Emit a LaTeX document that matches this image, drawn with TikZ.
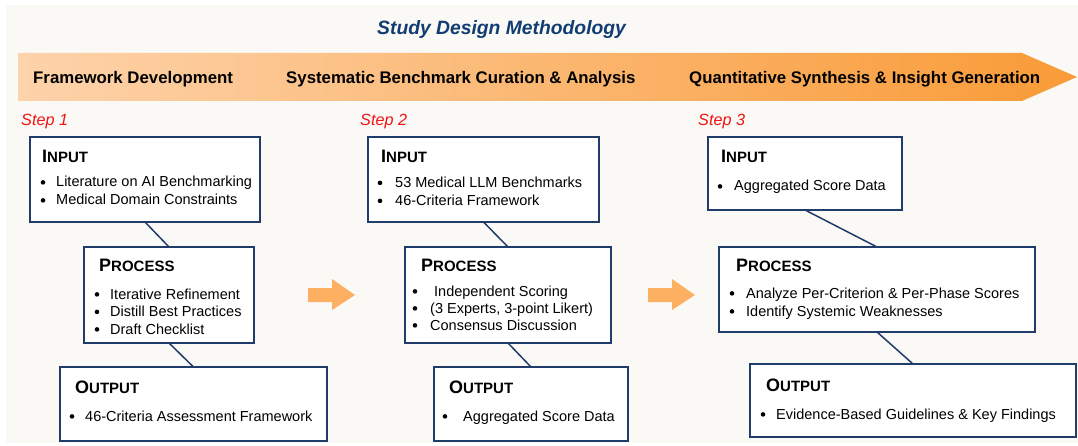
\documentclass[tikz,border=0pt]{standalone}
\usepackage{fontspec}
\setmainfont{Liberation Sans}
\definecolor{navy}{HTML}{1F3C6B}
\definecolor{ttl}{HTML}{123D73}
\definecolor{bgc}{HTML}{FBF9F6}
\definecolor{stepred}{HTML}{F01414}
\definecolor{arr}{HTML}{FDAF62}
\definecolor{banL}{HTML}{FDD3AB}
\definecolor{banR}{HTML}{F99B37}
\newcommand{\scap}[2]{{\fontsize{18}{18}\selectfont #1}{\fontsize{15}{15}\selectfont #2}}
\newcommand{\boxat}[5]{\node[iobox, minimum width={#4-#2}, minimum height={#5-#3}] (#1) at (#2,#3) {};}
\newcommand{\hdat}[4]{\node[hd] (#1) at (#2,#3) {#4};}
\newcommand{\itm}[5]{\fill[black] (#2,#3-4.6) circle (2.3); \node[li] (#1) at (#4,#3) {#5};}
\begin{document}
\begin{tikzpicture}[x=1pt,y=-1pt,
  iobox/.style={draw=navy, line width=1.8pt, fill=white, inner sep=0pt, outer sep=0pt, anchor=north west},
  hd/.style={anchor=base west, inner sep=0pt, font=\bfseries},
  li/.style={anchor=base west, inner sep=0pt, font=\fontsize{14.5}{17}\selectfont},
  conn/.style={draw=navy, line width=1.5pt},
  bantext/.style={anchor=base west, inner sep=0pt, font=\fontsize{16.8}{17}\selectfont\bfseries},
  steplbl/.style={anchor=base west, inner sep=0pt, text=stepred, font=\fontsize{16.2}{17}\selectfont\itshape},
  stepar/.style={fill=arr}]
\useasboundingbox (0,0) rectangle (1078,446);
\fill[white] (0,0) rectangle (1078,446);
\fill[bgc] (6,5) rectangle (1078,443);

% title
\node[anchor=base west, inner sep=0pt, text=ttl, font=\fontsize{19.3}{20}\selectfont\bfseries\itshape] (title) at (377,35) {Study Design Methodology};

% banner
\shade[left color=banL, right color=banR] (18,53) -- (1022,53) -- (1077,77) -- (1022,101) -- (18,101) -- cycle;
\node[bantext] (ph1) at (33,83.5) {Framework Development};
\node[bantext] (ph2) at (286,83.5) {Systematic Benchmark Curation \& Analysis};
\node[bantext] (ph3) at (689,83.5) {Quantitative Synthesis \& Insight Generation};

% step labels
\node[steplbl] (s1) at (21,126) {Step 1};
\node[steplbl] (s2) at (360,126) {Step 2};
\node[steplbl] (s3) at (698,126) {Step 3};

% step arrows
\fill[stepar] (308,288) -- (332,288) -- (332,279) -- (355,295) -- (332,310) -- (332,302) -- (308,302) -- cycle;
\fill[stepar] (648,288) -- (672,288) -- (672,279) -- (695,295) -- (672,310) -- (672,302) -- (648,302) -- cycle;

% boxes
\boxat{in1}{30}{137}{260}{222}
\boxat{pr1}{84}{247}{254}{343}
\boxat{out1}{60}{367}{327}{441}
\boxat{in2}{368}{137}{599}{222}
\boxat{pr2}{405}{247}{611}{343}
\boxat{out2}{434}{367}{628}{441}
\boxat{in3}{708}{137}{902}{210}
\boxat{pr3}{719}{247}{1035}{332}
\boxat{out3}{750}{364}{1076}{437}

% connectors
\draw[conn] (in1.south) -- (pr1.north);
\draw[conn] (pr1.south) -- (out1.north);
\draw[conn] (in2.south) -- (pr2.north);
\draw[conn] (pr2.south) -- (out2.north);
\draw[conn] (in3.south) -- (pr3.north);
\draw[conn] (pr3.south) -- (out3.north);

% step 1 texts
\hdat{in1h}{42}{163}{\scap{I}{NPUT}}
\itm{in1a}{43}{187}{56}{Literature on AI Benchmarking}
\itm{in1b}{43}{205}{56}{Medical Domain Constraints}
\hdat{pr1h}{99}{272}{\scap{P}{ROCESS}}
\itm{pr1a}{97}{299}{110}{Iterative Refinement}
\itm{pr1b}{97}{316.5}{110}{Distill Best Practices}
\itm{pr1c}{97}{334}{110}{Draft Checklist}
\hdat{out1h}{75}{393}{\scap{O}{UTPUT}}
\itm{out1a}{72}{421}{85}{46-Criteria Assessment Framework}

% step 2 texts
\hdat{in2h}{381}{163}{\scap{I}{NPUT}}
\itm{in2a}{380}{187.5}{395}{53 Medical LLM Benchmarks}
\itm{in2b}{380}{205.5}{395}{46-Criteria Framework}
\hdat{pr2h}{421}{272}{\scap{P}{ROCESS}}
\itm{pr2a}{415}{296}{434}{Independent Scoring}
\itm{pr2b}{415}{313}{430}{(3 Experts, 3-point Likert)}
\itm{pr2c}{415}{330}{430}{Consensus Discussion}
\hdat{out2h}{449}{393}{\scap{O}{UTPUT}}
\itm{out2a}{445}{421}{463}{Aggregated Score Data}

% step 3 texts
\hdat{in3h}{721}{163}{\scap{I}{NPUT}}
\itm{in3a}{720}{191}{734}{Aggregated Score Data}
\hdat{pr3h}{736}{272}{\scap{P}{ROCESS}}
\itm{pr3a}{732}{298}{746}{Analyze Per-Criterion \& Per-Phase Scores}
\itm{pr3b}{732}{316}{746}{Identify Systemic Weaknesses}
\hdat{out3h}{766}{391}{\scap{O}{UTPUT}}
\itm{out3a}{763}{419}{776}{Evidence-Based Guidelines \& Key Findings}
\end{tikzpicture}
\end{document}
